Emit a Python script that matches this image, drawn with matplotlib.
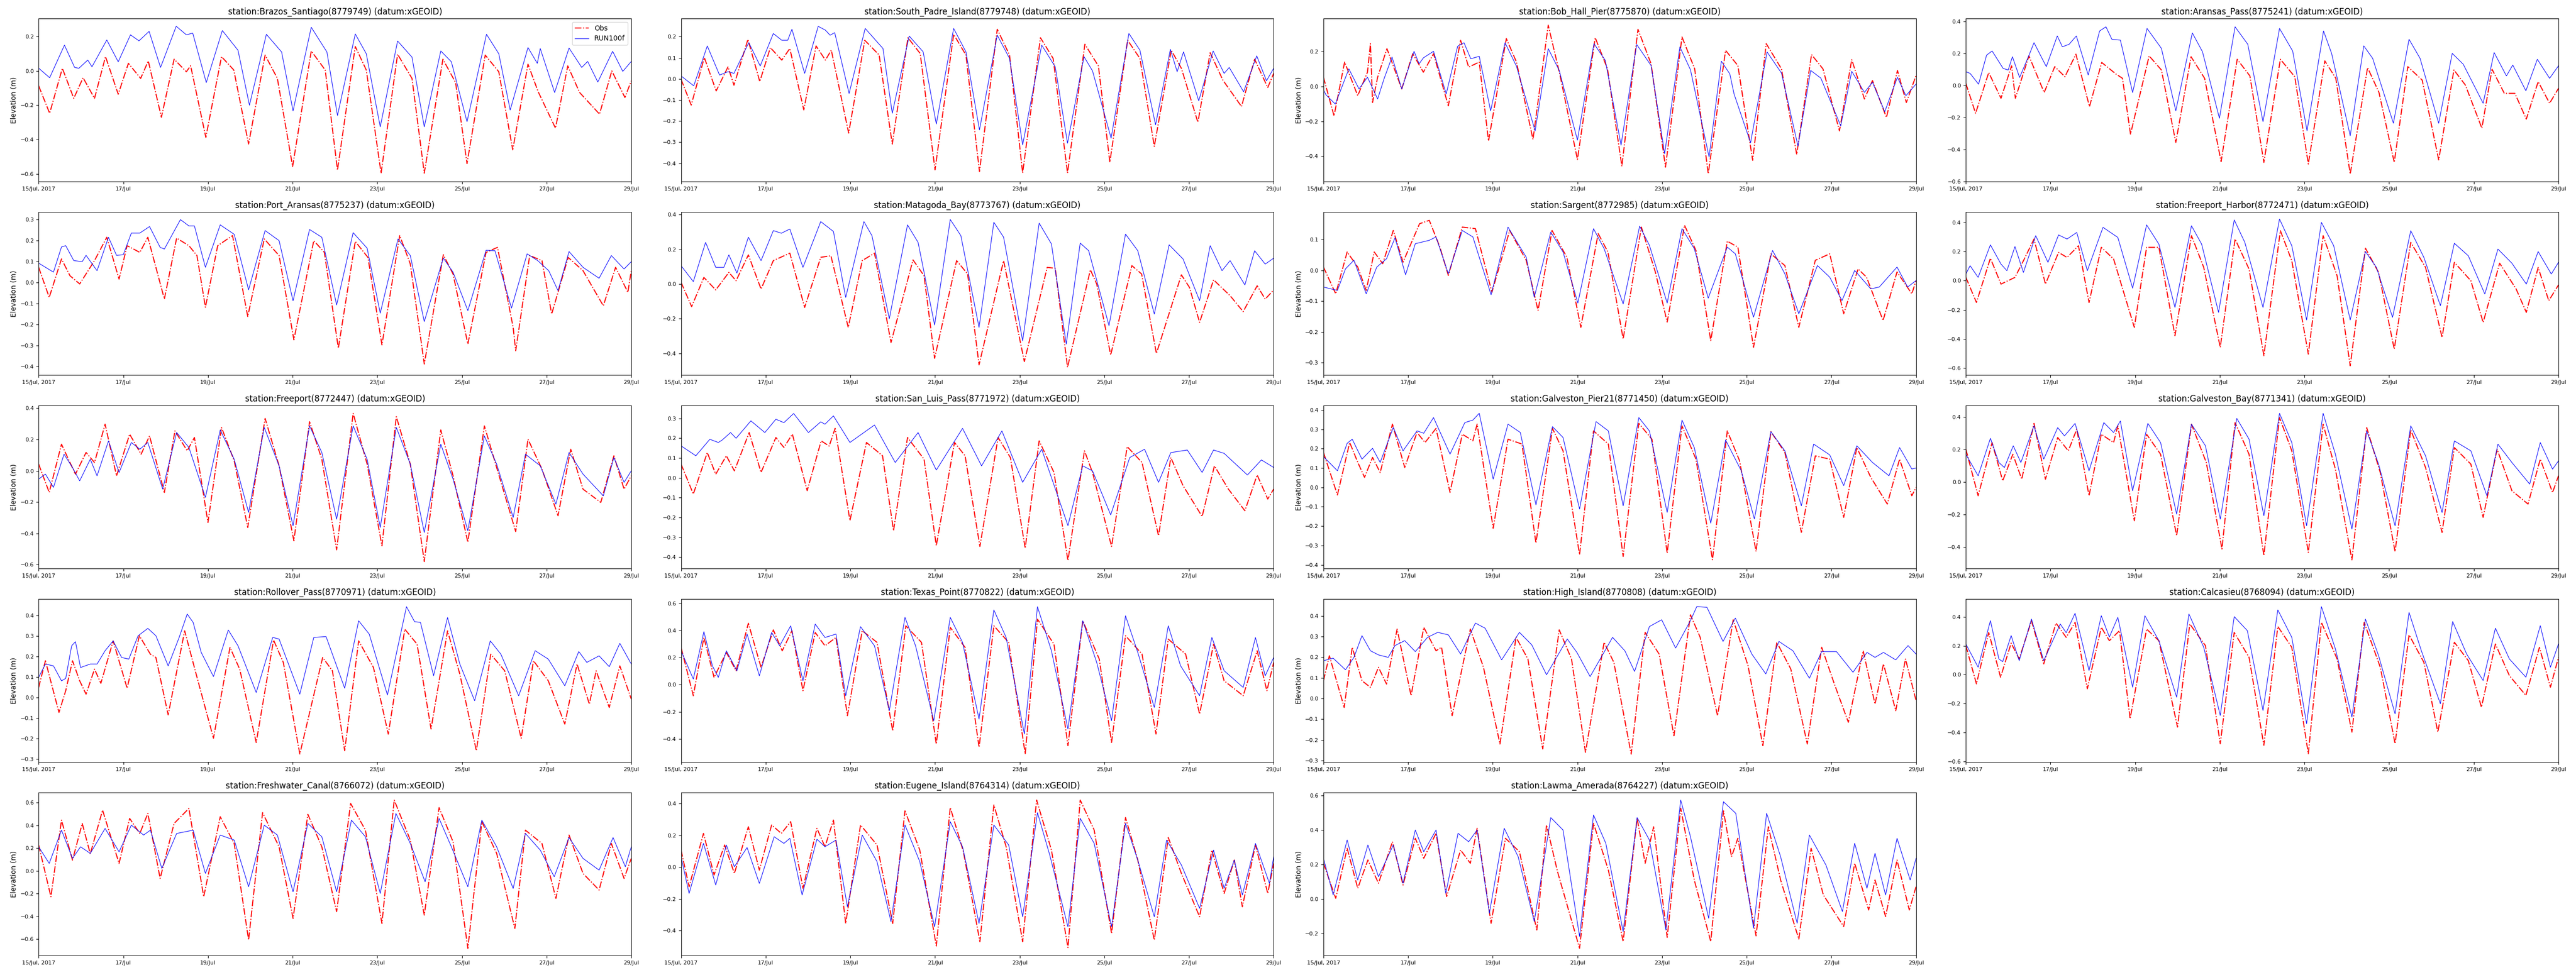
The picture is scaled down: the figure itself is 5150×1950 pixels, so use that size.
import matplotlib

matplotlib.use("Agg")
import matplotlib.pyplot as plt
import numpy as np
import pandas as pd

# Water level at 19 NOAA stations, 15-29 Jul 2017: observed vs RUN100f.
# Each series is a list of (days since 15 Jul 2017 00:00, elevation m),
# read off the tidal highs/lows of the reference figure.
START = pd.Timestamp("2017-07-15")

BRAZOS_MOD = [(0, 0.016), (0.26, -0.04), (0.61, 0.15), (0.85, 0.02), (0.95, 0.015), (1.16, 0.063), (1.26, 0.024), (1.61, 0.18), (1.88, 0.053), (2.17, 0.21), (2.37, 0.175), (2.61, 0.23), (2.88, 0.02), (3.25, 0.26), (3.49, 0.21), (3.64, 0.22), (3.96, -0.068), (4.34, 0.235), (4.71, 0.12), (4.98, -0.2), (5.38, 0.213), (5.74, 0.11), (6.01, -0.233), (6.44, 0.254), (6.81, 0.11), (7.06, -0.26), (7.48, 0.215), (7.74, 0.10), (8.07, -0.326), (8.48, 0.174), (8.82, 0.08), (9.11, -0.326), (9.50, 0.116), (9.75, 0.053), (10.12, -0.296), (10.58, 0.213), (10.87, 0.10), (11.14, -0.228), (11.56, 0.136), (11.78, 0.044), (11.85, 0.13), (12.19, -0.126), (12.53, 0.133), (12.83, 0.02), (12.97, 0.055), (13.21, -0.065), (13.56, 0.114), (13.80, -0.003), (14.0, 0.055)]
BRAZOS_OBS = [(0, -0.087), (0.26, -0.247), (0.56, 0.015), (0.83, -0.16), (1.05, -0.04), (1.32, -0.16), (1.58, 0.083), (1.88, -0.136), (2.12, 0.044), (2.41, -0.044), (2.59, 0.058), (2.90, -0.27), (3.20, 0.068), (3.49, -0.005), (3.59, 0.03), (3.95, -0.387), (4.32, 0.083), (4.61, 0.005), (4.96, -0.426), (5.35, 0.092), (5.64, -0.044), (6.00, -0.557), (6.44, 0.116), (6.77, 0.005), (7.06, -0.578), (7.48, 0.142), (7.74, 0.005), (8.09, -0.596), (8.48, 0.097), (8.82, -0.044), (9.11, -0.596), (9.55, 0.068), (9.85, -0.068), (10.12, -0.54), (10.55, 0.092), (10.87, -0.005), (11.20, -0.46), (11.56, 0.039), (11.80, -0.121), (12.21, -0.334), (12.50, 0.029), (12.78, -0.126), (13.25, -0.252), (13.54, 0.0), (13.85, -0.155), (14.0, -0.058)]

SPADRE_MOD = [(0, 0.014), (0.30, -0.033), (0.62, 0.156), (0.91, 0.018), (1.11, 0.034), (1.25, 0.026), (1.60, 0.172), (1.87, 0.061), (2.18, 0.215), (2.38, 0.183), (2.52, 0.183), (2.62, 0.235), (2.92, 0.026), (3.24, 0.249), (3.41, 0.231), (3.52, 0.207), (3.63, 0.219), (3.97, -0.069), (4.35, 0.239), (4.77, 0.144), (4.99, -0.163), (5.39, 0.203), (5.72, 0.128), (6.03, -0.214), (6.44, 0.239), (6.73, 0.128), (7.05, -0.242), (7.47, 0.207), (7.76, 0.097), (8.07, -0.313), (8.52, 0.16), (8.84, 0.057), (9.13, -0.305), (9.52, 0.105), (9.72, 0.038), (10.16, -0.281), (10.58, 0.215), (10.84, 0.136), (11.21, -0.218), (11.56, 0.14), (11.72, 0.034), (11.87, 0.128), (12.23, -0.104), (12.57, 0.132), (12.83, 0.026), (12.95, 0.054), (13.29, -0.061), (13.60, 0.109), (13.83, -0.009), (14.0, 0.05)]
SPADRE_OBS = [(0, -0.002), (0.24, -0.124), (0.55, 0.101), (0.83, -0.057), (1.11, 0.057), (1.25, -0.03), (1.58, 0.187), (1.86, -0.013), (2.11, 0.148), (2.38, 0.089), (2.57, 0.144), (2.90, -0.147), (3.19, 0.156), (3.41, 0.089), (3.55, 0.136), (3.96, -0.257), (4.34, 0.183), (4.68, 0.113), (4.99, -0.309), (5.36, 0.195), (5.65, 0.12), (6.00, -0.431), (6.44, 0.211), (6.73, 0.113), (7.05, -0.439), (7.47, 0.235), (7.76, 0.113), (8.07, -0.446), (8.49, 0.195), (8.79, 0.097), (9.13, -0.446), (9.54, 0.164), (9.86, 0.061), (10.13, -0.395), (10.55, 0.183), (10.84, 0.097), (11.18, -0.32), (11.58, 0.136), (11.82, 0.05), (12.21, -0.206), (12.50, 0.124), (12.80, -0.006), (13.24, -0.131), (13.55, 0.093), (13.86, -0.041), (14.0, 0.026)]

BOBHALL_MOD = [(0, -0.019), (0.06, -0.048), (0.28, -0.101), (0.60, 0.101), (0.84, -0.014), (1.04, 0.053), (1.28, -0.072), (1.43, 0.043), (1.62, 0.169), (1.85, -0.014), (2.14, 0.202), (2.26, 0.13), (2.36, 0.164), (2.60, 0.202), (2.90, -0.043), (3.17, 0.231), (3.32, 0.251), (3.48, 0.159), (3.68, 0.173), (3.95, -0.14), (4.29, 0.251), (4.56, 0.116), (5.00, -0.255), (5.31, 0.217), (5.57, 0.092), (6.00, -0.308), (6.39, 0.246), (6.66, 0.149), (7.03, -0.337), (7.40, 0.241), (7.74, 0.12), (8.06, -0.386), (8.42, 0.227), (8.67, 0.096), (9.11, -0.405), (9.40, 0.145), (9.60, 0.072), (9.70, -0.043), (10.09, -0.323), (10.48, 0.198), (10.82, 0.077), (11.21, -0.342), (11.51, 0.092), (11.75, 0.048), (12.22, -0.226), (12.48, 0.087), (12.78, -0.034), (12.97, 0.024), (13.26, -0.145), (13.56, 0.053), (13.76, -0.053), (14.0, 0.014)]
BOBHALL_OBS = [(0, 0.053), (0.25, -0.169), (0.50, 0.14), (0.81, -0.053), (1.04, 0.082), (1.11, 0.246), (1.16, -0.092), (1.28, 0.053), (1.50, 0.217), (1.85, -0.014), (2.11, 0.188), (2.36, 0.082), (2.60, 0.188), (2.95, -0.111), (3.24, 0.265), (3.43, 0.111), (3.68, 0.14), (3.90, -0.313), (4.32, 0.275), (4.56, 0.14), (4.95, -0.304), (5.31, 0.352), (5.59, 0.063), (6.00, -0.419), (6.42, 0.28), (6.71, 0.101), (7.05, -0.458), (7.43, 0.328), (7.74, 0.13), (8.08, -0.463), (8.47, 0.284), (8.77, 0.101), (9.09, -0.501), (9.50, 0.207), (9.79, 0.12), (10.14, -0.424), (10.46, 0.246), (10.82, 0.101), (11.18, -0.39), (11.53, 0.183), (11.80, 0.101), (12.19, -0.255), (12.48, 0.154), (12.78, -0.072), (12.97, 0.034), (13.30, -0.178), (13.56, 0.092), (13.77, -0.092), (14.0, 0.063)]

ARANSAS_MOD = [(0, 0.085), (0.10, 0.075), (0.30, 0.007), (0.49, 0.189), (0.62, 0.215), (0.88, 0.106), (1.00, 0.096), (1.10, 0.179), (1.27, 0.049), (1.51, 0.2), (1.61, 0.267), (1.90, 0.117), (2.16, 0.309), (2.28, 0.241), (2.44, 0.257), (2.61, 0.309), (2.89, 0.065), (3.16, 0.34), (3.31, 0.366), (3.45, 0.288), (3.65, 0.283), (3.94, -0.045), (4.28, 0.356), (4.62, 0.231), (4.96, -0.159), (5.35, 0.328), (5.59, 0.21), (5.99, -0.206), (6.36, 0.366), (6.66, 0.257), (7.02, -0.227), (7.41, 0.356), (7.72, 0.215), (8.06, -0.284), (8.45, 0.34), (8.64, 0.2), (9.08, -0.315), (9.40, 0.247), (9.61, 0.169), (10.10, -0.237), (10.47, 0.288), (10.73, 0.169), (11.17, -0.237), (11.49, 0.2), (11.75, 0.132), (12.22, -0.112), (12.48, 0.205), (12.77, 0.059), (12.92, 0.127), (13.23, -0.034), (13.50, 0.163), (13.79, 0.044), (14.0, 0.122)]
ARANSAS_OBS = [(0, 0.012), (0.23, -0.175), (0.54, 0.08), (0.83, -0.081), (1.08, 0.122), (1.17, -0.081), (1.49, 0.184), (1.85, -0.045), (2.10, 0.117), (2.34, 0.054), (2.60, 0.195), (2.92, -0.133), (3.21, 0.143), (3.55, 0.07), (3.70, 0.044), (3.89, -0.305), (4.33, 0.184), (4.62, 0.096), (4.96, -0.357), (5.32, 0.179), (5.64, 0.044), (6.03, -0.477), (6.41, 0.163), (6.71, 0.059), (7.04, -0.482), (7.43, 0.163), (7.77, 0.054), (8.09, -0.492), (8.48, 0.153), (8.74, 0.044), (9.08, -0.555), (9.49, 0.111), (9.76, -0.045), (10.12, -0.482), (10.44, 0.117), (10.78, 0.033), (11.17, -0.466), (11.53, 0.096), (11.80, 0.002), (12.19, -0.268), (12.43, 0.101), (12.72, -0.05), (12.97, -0.05), (13.24, -0.211), (13.52, 0.023), (13.79, -0.112), (14.0, -0.019)]

PORTA_MOD = [(0, 0.093), (0.35, 0.05), (0.54, 0.17), (0.64, 0.176), (0.83, 0.105), (1.03, 0.10), (1.12, 0.13), (1.38, 0.057), (1.65, 0.216), (1.84, 0.13), (2.0, 0.133), (2.19, 0.236), (2.39, 0.236), (2.62, 0.267), (2.87, 0.168), (2.97, 0.16), (3.35, 0.30), (3.55, 0.27), (3.68, 0.27), (3.94, 0.073), (4.29, 0.275), (4.62, 0.23), (4.96, -0.034), (5.35, 0.248), (5.68, 0.20), (6.01, -0.086), (6.40, 0.253), (6.69, 0.216), (7.04, -0.106), (7.43, 0.238), (7.76, 0.164), (8.07, -0.145), (8.49, 0.208), (8.78, 0.129), (9.11, -0.185), (9.56, 0.117), (9.79, 0.05), (10.14, -0.133), (10.57, 0.154), (10.78, 0.152), (11.17, -0.121), (11.54, 0.137), (11.79, 0.105), (12.05, 0.057), (12.27, -0.038), (12.53, 0.148), (12.86, 0.073), (13.24, 0.021), (13.53, 0.129), (13.83, 0.065), (14.0, 0.10)]
PORTA_OBS = [(0, 0.073), (0.25, -0.07), (0.54, 0.113), (0.74, 0.033), (0.97, -0.006), (1.32, 0.105), (1.61, 0.216), (1.90, 0.017), (2.09, 0.176), (2.39, 0.144), (2.58, 0.216), (2.97, -0.078), (3.26, 0.212), (3.55, 0.176), (3.74, 0.129), (3.94, -0.117), (4.23, 0.176), (4.58, 0.224), (4.94, -0.161), (5.33, 0.208), (5.68, 0.129), (6.03, -0.272), (6.50, 0.20), (6.75, 0.144), (7.08, -0.312), (7.48, 0.196), (7.78, 0.12), (8.11, -0.296), (8.53, 0.224), (8.78, 0.089), (9.11, -0.387), (9.56, 0.133), (9.79, 0.041), (10.14, -0.292), (10.57, 0.144), (10.84, 0.168), (11.21, -0.213), (11.27, -0.324), (11.60, 0.129), (11.89, 0.105), (12.12, -0.149), (12.51, 0.12), (12.86, 0.057), (13.34, -0.11), (13.63, 0.073), (13.92, -0.046), (14.0, 0.057)]

MATAGORDA_MOD = [(0, 0.106), (0.29, 0.014), (0.58, 0.24), (0.82, 0.096), (1.01, 0.096), (1.13, 0.168), (1.32, 0.063), (1.59, 0.27), (1.89, 0.135), (2.18, 0.308), (2.37, 0.293), (2.57, 0.317), (2.88, 0.096), (3.30, 0.36), (3.60, 0.303), (3.89, -0.077), (4.32, 0.36), (4.51, 0.279), (4.92, -0.20), (5.35, 0.341), (5.60, 0.24), (5.99, -0.236), (6.36, 0.372), (6.61, 0.279), (7.04, -0.25), (7.39, 0.356), (7.62, 0.27), (8.07, -0.327), (8.46, 0.351), (8.75, 0.231), (9.10, -0.346), (9.43, 0.236), (9.63, 0.192), (10.11, -0.24), (10.50, 0.288), (10.79, 0.192), (11.18, -0.173), (11.53, 0.226), (11.86, 0.144), (12.25, -0.096), (12.50, 0.221), (12.78, 0.077), (12.97, 0.135), (13.32, -0.005), (13.55, 0.192), (13.80, 0.115), (14.0, 0.149)]
MATAGORDA_OBS = [(0, 0.01), (0.25, -0.13), (0.54, 0.038), (0.82, -0.034), (1.13, 0.067), (1.30, 0.019), (1.59, 0.168), (1.89, -0.029), (2.18, 0.135), (2.57, 0.178), (2.92, -0.135), (3.30, 0.154), (3.54, 0.163), (3.95, -0.25), (4.28, 0.135), (4.57, 0.178), (4.96, -0.337), (5.48, 0.139), (5.74, 0.048), (5.99, -0.428), (6.51, 0.135), (6.77, 0.058), (7.04, -0.466), (7.62, 0.135), (8.11, -0.447), (8.65, 0.096), (8.84, 0.091), (9.13, -0.48), (9.67, 0.082), (9.82, 0.0), (10.15, -0.409), (10.65, 0.106), (10.88, 0.058), (11.23, -0.40), (11.82, 0.053), (12.01, -0.019), (12.25, -0.221), (12.58, 0.024), (12.97, -0.067), (13.28, -0.159), (13.61, -0.01), (13.80, -0.087), (14.0, -0.034)]

SARGENT_MOD = [(0, -0.054), (0.33, -0.065), (0.52, 0.005), (0.72, 0.033), (1.01, -0.076), (1.26, 0.011), (1.49, 0.038), (1.69, 0.106), (1.94, -0.014), (2.17, 0.087), (2.50, 0.098), (2.66, 0.109), (2.95, -0.011), (3.28, 0.13), (3.53, 0.109), (3.96, -0.079), (4.36, 0.141), (4.79, 0.043), (4.98, -0.087), (5.37, 0.125), (5.66, 0.06), (6.01, -0.106), (6.38, 0.136), (6.63, 0.071), (7.08, -0.109), (7.47, 0.144), (7.70, 0.082), (8.12, -0.106), (8.47, 0.136), (8.76, 0.071), (9.09, -0.09), (9.54, 0.076), (9.73, 0.054), (10.16, -0.152), (10.61, 0.065), (10.90, -0.011), (11.23, -0.141), (11.67, 0.016), (11.96, -0.022), (12.25, -0.098), (12.55, 0.0), (12.93, -0.06), (13.13, -0.054), (13.55, 0.011), (13.80, -0.054), (14.0, -0.033)]
SARGENT_OBS = [(0, 0.011), (0.29, -0.076), (0.56, 0.06), (0.81, 0.011), (1.01, -0.065), (1.20, 0.06), (1.40, 0.022), (1.65, 0.13), (1.88, 0.027), (2.27, 0.152), (2.50, 0.163), (2.75, 0.076), (2.95, -0.016), (3.28, 0.141), (3.59, 0.136), (3.98, -0.071), (4.40, 0.13), (4.79, 0.033), (5.07, -0.13), (5.40, 0.13), (5.75, 0.043), (6.08, -0.185), (6.49, 0.12), (6.72, 0.06), (7.08, -0.223), (7.51, 0.141), (7.84, -0.005), (8.12, -0.168), (8.53, 0.147), (8.80, 0.065), (9.15, -0.228), (9.54, 0.095), (9.79, 0.076), (10.16, -0.25), (10.57, 0.054), (10.90, 0.016), (11.23, -0.185), (11.62, 0.033), (11.96, 0.054), (12.29, -0.141), (12.63, 0.005), (12.83, -0.022), (13.22, -0.163), (13.55, -0.005), (13.90, -0.076), (14.0, -0.033)]

FHARBOR_MOD = [(0, 0.046), (0.10, 0.103), (0.29, 0.023), (0.58, 0.246), (0.83, 0.114), (0.97, 0.069), (1.16, 0.234), (1.36, 0.057), (1.65, 0.309), (1.94, 0.126), (2.19, 0.314), (2.39, 0.286), (2.62, 0.331), (2.87, 0.069), (3.24, 0.366), (3.59, 0.297), (3.94, -0.051), (4.27, 0.383), (4.56, 0.251), (4.94, -0.183), (5.33, 0.377), (5.57, 0.251), (5.97, -0.217), (6.34, 0.417), (6.59, 0.263), (7.02, -0.183), (7.41, 0.423), (7.70, 0.24), (8.05, -0.269), (8.40, 0.40), (8.69, 0.24), (9.08, -0.269), (9.44, 0.20), (9.70, 0.091), (10.08, -0.251), (10.51, 0.343), (10.82, 0.16), (11.21, -0.171), (11.54, 0.257), (11.87, 0.171), (12.26, -0.091), (12.57, 0.217), (12.90, 0.12), (13.24, -0.023), (13.52, 0.20), (13.83, 0.046), (14.0, 0.126)]
FHARBOR_OBS = [(0, 0.023), (0.25, -0.149), (0.58, 0.154), (0.83, -0.023), (1.16, 0.023), (1.36, 0.137), (1.61, 0.286), (1.88, -0.023), (2.19, 0.194), (2.39, 0.16), (2.66, 0.24), (2.91, -0.149), (3.20, 0.229), (3.49, 0.149), (3.98, -0.32), (4.27, 0.229), (4.56, 0.229), (4.94, -0.377), (5.33, 0.309), (5.62, 0.091), (6.01, -0.457), (6.36, 0.286), (6.69, 0.08), (7.04, -0.514), (7.43, 0.343), (7.70, 0.137), (8.09, -0.503), (8.44, 0.309), (8.77, 0.034), (9.08, -0.583), (9.44, 0.223), (9.75, 0.057), (10.12, -0.469), (10.51, 0.263), (10.86, 0.091), (11.25, -0.389), (11.54, 0.126), (11.93, 0.0), (12.22, -0.286), (12.61, 0.12), (13.00, -0.057), (13.24, -0.217), (13.52, 0.091), (13.77, -0.137), (14.0, -0.029)]

FREEPORT_MOD = [(0, -0.053), (0.16, -0.021), (0.35, -0.106), (0.60, 0.106), (0.80, 0.021), (0.97, -0.064), (1.22, 0.074), (1.38, -0.032), (1.65, 0.191), (1.90, -0.011), (2.19, 0.181), (2.39, 0.138), (2.58, 0.181), (2.93, -0.117), (3.26, 0.245), (3.55, 0.149), (3.94, -0.17), (4.29, 0.261), (4.62, 0.074), (4.96, -0.266), (5.33, 0.277), (5.68, 0.032), (6.01, -0.351), (6.40, 0.287), (6.69, 0.117), (7.04, -0.309), (7.43, 0.287), (7.76, 0.074), (8.07, -0.362), (8.45, 0.277), (8.78, 0.043), (9.11, -0.394), (9.50, 0.17), (9.79, -0.053), (10.14, -0.383), (10.53, 0.223), (10.82, 0.043), (11.21, -0.298), (11.50, 0.106), (11.85, 0.032), (12.22, -0.213), (12.53, 0.117), (12.86, -0.021), (13.34, -0.16), (13.59, 0.085), (13.83, -0.074), (14.0, 0.0)]
FREEPORT_OBS = [(0, 0.043), (0.25, -0.138), (0.54, 0.17), (0.74, 0.053), (0.87, -0.021), (1.12, 0.117), (1.32, 0.053), (1.57, 0.298), (1.84, -0.032), (2.15, 0.234), (2.42, 0.106), (2.62, 0.223), (2.97, -0.138), (3.22, 0.255), (3.51, 0.128), (3.68, 0.213), (4.00, -0.33), (4.32, 0.277), (4.62, 0.064), (4.94, -0.362), (5.35, 0.335), (5.68, 0.032), (6.03, -0.447), (6.40, 0.314), (6.69, 0.074), (7.04, -0.505), (7.43, 0.367), (7.76, 0.043), (8.11, -0.479), (8.45, 0.346), (8.78, 0.043), (9.11, -0.58), (9.50, 0.261), (9.79, -0.032), (10.14, -0.457), (10.53, 0.287), (10.82, 0.021), (11.27, -0.388), (11.56, 0.202), (11.89, 0.011), (12.27, -0.287), (12.57, 0.138), (12.86, -0.117), (13.28, -0.202), (13.59, 0.096), (13.83, -0.117), (14.0, -0.032)]

SANLUIS_MOD = [(0, 0.161), (0.35, 0.111), (0.68, 0.194), (0.88, 0.178), (0.97, 0.19), (1.17, 0.228), (1.30, 0.199), (1.65, 0.287), (1.98, 0.228), (2.24, 0.295), (2.43, 0.278), (2.66, 0.324), (3.01, 0.228), (3.30, 0.282), (3.40, 0.27), (3.60, 0.312), (3.99, 0.178), (4.57, 0.266), (5.06, 0.077), (5.60, 0.228), (6.03, 0.039), (6.65, 0.249), (7.10, 0.06), (7.58, 0.236), (8.07, -0.023), (8.52, 0.144), (9.14, -0.241), (9.49, 0.06), (9.72, 0.035), (10.15, -0.187), (10.60, 0.102), (10.95, 0.144), (11.28, -0.023), (11.57, 0.127), (11.96, 0.14), (12.31, 0.027), (12.58, 0.14), (12.83, 0.123), (13.38, 0.014), (13.71, 0.09), (14.0, 0.052)]
SANLUIS_OBS = [(0, 0.069), (0.29, -0.082), (0.62, 0.127), (0.82, 0.018), (1.07, 0.111), (1.26, 0.035), (1.61, 0.228), (1.89, 0.027), (2.24, 0.203), (2.43, 0.153), (2.63, 0.22), (2.98, -0.065), (3.31, 0.186), (3.50, 0.16), (3.64, 0.249), (3.99, -0.216), (4.38, 0.178), (4.76, 0.111), (5.02, -0.267), (5.35, 0.203), (5.74, 0.094), (6.03, -0.342), (6.46, 0.178), (6.71, 0.111), (7.06, -0.346), (7.49, 0.203), (7.78, 0.102), (8.13, -0.355), (8.46, 0.186), (8.81, 0.027), (9.14, -0.417), (9.53, 0.136), (9.72, 0.027), (10.17, -0.346), (10.54, 0.157), (10.89, 0.077), (11.28, -0.292), (11.57, 0.102), (11.86, -0.04), (12.31, -0.195), (12.60, 0.06), (12.93, -0.057), (13.32, -0.166), (13.61, 0.014), (13.86, -0.107), (14.0, -0.057)]

PIER21_MOD = [(0, 0.159), (0.33, 0.086), (0.56, 0.228), (0.68, 0.249), (0.91, 0.146), (1.16, 0.202), (1.34, 0.129), (1.65, 0.31), (1.88, 0.189), (2.21, 0.292), (2.37, 0.28), (2.60, 0.361), (2.99, 0.172), (3.34, 0.335), (3.53, 0.348), (3.68, 0.383), (4.01, 0.043), (4.36, 0.327), (4.65, 0.284), (5.02, -0.09), (5.41, 0.314), (5.66, 0.258), (6.05, -0.112), (6.44, 0.34), (6.73, 0.292), (7.08, -0.095), (7.45, 0.361), (7.70, 0.292), (8.12, -0.129), (8.47, 0.348), (8.76, 0.206), (9.15, -0.185), (9.50, 0.245), (9.87, 0.086), (10.18, -0.163), (10.57, 0.288), (10.90, 0.189), (11.29, -0.095), (11.58, 0.224), (11.96, 0.168), (12.29, 0.009), (12.60, 0.215), (12.97, 0.129), (13.36, 0.06), (13.61, 0.206), (13.90, 0.095), (14.0, 0.1)]
PIER21_OBS = [(0, 0.181), (0.33, -0.039), (0.62, 0.232), (0.81, 0.13), (0.97, 0.052), (1.16, 0.155), (1.34, 0.077), (1.63, 0.327), (1.92, 0.103), (2.21, 0.284), (2.40, 0.232), (2.66, 0.305), (2.99, -0.026), (3.28, 0.275), (3.53, 0.241), (3.63, 0.327), (4.01, -0.211), (4.36, 0.249), (4.69, 0.224), (5.02, -0.288), (5.41, 0.305), (5.66, 0.189), (6.05, -0.348), (6.38, 0.292), (6.73, 0.224), (7.08, -0.357), (7.45, 0.331), (7.76, 0.249), (8.12, -0.34), (8.47, 0.318), (8.80, 0.146), (9.19, -0.374), (9.54, 0.292), (9.83, 0.138), (10.22, -0.331), (10.57, 0.288), (10.90, 0.181), (11.29, -0.232), (11.62, 0.163), (11.96, 0.146), (12.29, -0.155), (12.60, 0.206), (12.93, 0.052), (13.32, -0.086), (13.61, 0.146), (13.90, -0.043), (14.0, 0.0)]

GBAY_MOD = [(0, 0.172), (0.29, 0.039), (0.58, 0.27), (0.78, 0.121), (0.91, 0.09), (1.12, 0.224), (1.30, 0.121), (1.61, 0.347), (1.84, 0.142), (2.17, 0.336), (2.33, 0.285), (2.58, 0.362), (2.91, 0.07), (3.26, 0.367), (3.49, 0.306), (3.65, 0.377), (3.94, -0.053), (4.30, 0.362), (4.60, 0.244), (4.98, -0.197), (5.33, 0.357), (5.66, 0.224), (6.01, -0.228), (6.40, 0.393), (6.69, 0.265), (7.04, -0.207), (7.41, 0.424), (7.70, 0.244), (8.05, -0.269), (8.44, 0.424), (8.73, 0.172), (9.12, -0.289), (9.47, 0.316), (9.75, 0.111), (10.14, -0.269), (10.51, 0.347), (10.86, 0.162), (11.25, -0.187), (11.54, 0.254), (11.93, 0.193), (12.31, -0.084), (12.57, 0.234), (12.90, 0.121), (13.32, -0.012), (13.57, 0.244), (13.86, 0.08), (14.0, 0.131)]
GBAY_OBS = [(0, 0.203), (0.29, -0.084), (0.62, 0.244), (0.87, 0.008), (1.11, 0.172), (1.32, 0.018), (1.61, 0.362), (1.88, 0.018), (2.17, 0.275), (2.42, 0.193), (2.62, 0.326), (2.91, -0.084), (3.20, 0.295), (3.49, 0.244), (3.59, 0.347), (3.98, -0.238), (4.27, 0.295), (4.60, 0.172), (4.98, -0.33), (5.33, 0.357), (5.68, 0.121), (6.05, -0.412), (6.36, 0.367), (6.69, 0.172), (7.04, -0.453), (7.41, 0.398), (7.70, 0.193), (8.09, -0.433), (8.44, 0.357), (8.73, 0.08), (9.12, -0.479), (9.47, 0.336), (9.79, 0.059), (10.14, -0.428), (10.51, 0.321), (10.86, 0.09), (11.25, -0.31), (11.54, 0.213), (11.93, 0.111), (12.22, -0.217), (12.55, 0.203), (12.90, -0.053), (13.28, -0.135), (13.57, 0.142), (13.86, -0.064), (14.0, 0.039)]

ROLLOVER_MOD = [(0, 0.098), (0.16, 0.163), (0.35, 0.154), (0.54, 0.081), (0.64, 0.093), (0.78, 0.252), (0.87, 0.272), (0.99, 0.146), (1.22, 0.163), (1.38, 0.163), (1.57, 0.228), (1.76, 0.276), (1.96, 0.195), (2.13, 0.187), (2.35, 0.301), (2.58, 0.337), (2.77, 0.301), (3.06, 0.154), (3.32, 0.293), (3.51, 0.407), (3.65, 0.366), (3.84, 0.22), (4.13, 0.102), (4.48, 0.329), (4.71, 0.252), (5.14, 0.024), (5.53, 0.293), (5.68, 0.285), (6.17, 0.016), (6.50, 0.293), (6.79, 0.297), (7.23, 0.045), (7.56, 0.374), (7.81, 0.309), (8.24, 0.012), (8.69, 0.443), (8.88, 0.37), (9.02, 0.366), (9.33, 0.106), (9.66, 0.39), (9.95, 0.163), (10.30, -0.016), (10.67, 0.276), (10.92, 0.211), (11.34, 0.008), (11.73, 0.228), (12.04, 0.187), (12.43, 0.057), (12.76, 0.224), (12.95, 0.171), (13.24, 0.203), (13.48, 0.15), (13.73, 0.264), (14.0, 0.163)]
ROLLOVER_OBS = [(0, 0.049), (0.16, 0.179), (0.48, -0.073), (0.64, 0.033), (0.80, 0.179), (0.97, 0.081), (1.12, 0.016), (1.32, 0.138), (1.47, 0.069), (1.76, 0.276), (2.09, 0.045), (2.38, 0.301), (2.64, 0.211), (2.77, 0.195), (3.06, -0.085), (3.45, 0.325), (3.70, 0.13), (4.13, -0.199), (4.52, 0.244), (4.75, 0.138), (5.14, -0.22), (5.55, 0.28), (5.78, 0.171), (6.17, -0.276), (6.71, 0.195), (6.94, 0.13), (7.23, -0.26), (7.56, 0.276), (7.91, 0.146), (8.26, -0.179), (8.65, 0.333), (8.94, 0.26), (9.27, -0.154), (9.66, 0.325), (9.95, 0.114), (10.34, -0.26), (10.68, 0.211), (11.01, 0.13), (11.40, -0.199), (11.69, 0.179), (12.04, 0.081), (12.43, -0.13), (12.72, 0.163), (13.01, -0.033), (13.17, 0.13), (13.48, -0.049), (13.73, 0.154), (14.0, -0.008)]

TEXASPT_MOD = [(0, 0.25), (0.29, 0.042), (0.54, 0.391), (0.74, 0.14), (0.88, 0.054), (1.07, 0.25), (1.32, 0.103), (1.56, 0.373), (1.85, 0.066), (2.14, 0.385), (2.33, 0.287), (2.59, 0.434), (2.88, 0.029), (3.17, 0.447), (3.40, 0.348), (3.66, 0.373), (3.89, -0.081), (4.24, 0.428), (4.57, 0.287), (4.92, -0.191), (5.29, 0.496), (5.54, 0.287), (5.97, -0.265), (6.36, 0.496), (6.65, 0.312), (7.04, -0.253), (7.39, 0.551), (7.68, 0.348), (8.11, -0.363), (8.42, 0.575), (8.75, 0.25), (9.14, -0.326), (9.49, 0.471), (9.82, 0.164), (10.17, -0.265), (10.50, 0.508), (10.79, 0.238), (11.18, -0.167), (11.51, 0.434), (11.80, 0.14), (12.25, -0.081), (12.54, 0.348), (12.83, 0.103), (13.28, -0.02), (13.57, 0.348), (13.80, 0.066), (14.0, 0.201)]
TEXASPT_OBS = [(0, 0.275), (0.29, -0.081), (0.54, 0.348), (0.78, 0.054), (1.07, 0.238), (1.30, 0.103), (1.59, 0.453), (1.89, 0.128), (2.18, 0.404), (2.39, 0.25), (2.62, 0.398), (2.88, -0.044), (3.17, 0.385), (3.40, 0.287), (3.66, 0.348), (3.93, -0.228), (4.28, 0.398), (4.63, 0.312), (5.00, -0.339), (5.31, 0.434), (5.68, 0.312), (6.03, -0.437), (6.36, 0.422), (6.71, 0.275), (7.04, -0.461), (7.39, 0.434), (7.74, 0.312), (8.13, -0.51), (8.42, 0.483), (8.81, 0.299), (9.14, -0.449), (9.49, 0.471), (9.88, 0.189), (10.17, -0.425), (10.50, 0.361), (10.89, 0.226), (11.22, -0.363), (11.51, 0.336), (11.92, 0.226), (12.25, -0.216), (12.58, 0.299), (12.83, 0.029), (13.28, -0.081), (13.61, 0.25), (13.84, -0.044), (14.0, 0.164)]

HIGHISL_MOD = [(0, 0.183), (0.23, 0.195), (0.52, 0.139), (0.72, 0.199), (0.91, 0.304), (1.11, 0.231), (1.30, 0.211), (1.53, 0.199), (1.69, 0.256), (1.92, 0.28), (2.17, 0.227), (2.46, 0.296), (2.70, 0.32), (2.95, 0.308), (3.24, 0.215), (3.59, 0.365), (3.82, 0.34), (4.21, 0.187), (4.63, 0.32), (4.92, 0.26), (5.27, 0.115), (5.76, 0.288), (5.99, 0.222), (6.30, 0.106), (6.83, 0.296), (7.12, 0.231), (7.35, 0.131), (7.70, 0.348), (7.99, 0.381), (8.32, 0.244), (8.67, 0.377), (8.82, 0.445), (9.06, 0.441), (9.44, 0.276), (9.73, 0.389), (10.12, 0.215), (10.45, 0.119), (10.76, 0.276), (11.09, 0.231), (11.48, 0.098), (11.77, 0.227), (12.12, 0.227), (12.51, 0.127), (12.84, 0.223), (13.03, 0.199), (13.23, 0.223), (13.52, 0.187), (13.81, 0.256), (14.0, 0.215)]
HIGHISL_OBS = [(0, 0.086), (0.14, 0.207), (0.49, -0.043), (0.68, 0.248), (0.91, 0.086), (1.11, 0.054), (1.30, 0.151), (1.49, 0.07), (1.74, 0.336), (2.07, 0.014), (2.37, 0.344), (2.66, 0.231), (2.79, 0.248), (3.04, -0.083), (3.47, 0.336), (3.78, 0.151), (4.17, -0.22), (4.55, 0.296), (4.83, 0.191), (5.18, -0.244), (5.57, 0.332), (5.86, 0.191), (6.19, -0.26), (6.63, 0.272), (6.86, 0.175), (7.27, -0.269), (7.60, 0.32), (7.93, 0.215), (8.28, -0.18), (8.67, 0.405), (8.90, 0.296), (9.31, -0.083), (9.68, 0.381), (10.03, 0.159), (10.38, -0.228), (10.71, 0.272), (11.04, 0.143), (11.43, -0.22), (11.77, 0.248), (12.07, 0.07), (12.40, -0.115), (12.75, 0.231), (13.03, -0.027), (13.23, 0.167), (13.52, -0.059), (13.75, 0.191), (14.0, -0.01)]

CALCASIEU_MOD = [(0, 0.212), (0.29, 0.052), (0.58, 0.373), (0.78, 0.109), (0.87, 0.09), (1.07, 0.27), (1.26, 0.097), (1.55, 0.384), (1.84, 0.097), (2.23, 0.35), (2.37, 0.29), (2.58, 0.424), (2.91, 0.029), (3.20, 0.407), (3.39, 0.26), (3.59, 0.396), (3.94, -0.086), (4.23, 0.407), (4.56, 0.235), (4.98, -0.155), (5.27, 0.419), (5.62, 0.189), (6.01, -0.281), (6.34, 0.401), (6.65, 0.304), (7.02, -0.247), (7.37, 0.447), (7.70, 0.258), (8.05, -0.338), (8.40, 0.47), (8.73, 0.178), (9.12, -0.292), (9.44, 0.384), (9.75, 0.132), (10.14, -0.27), (10.47, 0.43), (10.76, 0.166), (11.21, -0.2), (11.50, 0.367), (11.83, 0.143), (12.22, -0.04), (12.51, 0.321), (12.84, 0.109), (13.23, -0.017), (13.57, 0.338), (13.81, 0.052), (14.0, 0.212)]
CALCASIEU_OBS = [(0, 0.201), (0.25, -0.063), (0.54, 0.292), (0.82, -0.017), (1.07, 0.218), (1.26, 0.109), (1.55, 0.373), (1.84, 0.075), (2.13, 0.356), (2.37, 0.258), (2.58, 0.361), (2.87, -0.097), (3.20, 0.327), (3.39, 0.235), (3.63, 0.304), (3.88, -0.304), (4.27, 0.315), (4.56, 0.235), (5.00, -0.361), (5.29, 0.35), (5.66, 0.201), (6.01, -0.476), (6.34, 0.292), (6.69, 0.12), (7.04, -0.487), (7.37, 0.333), (7.70, 0.189), (8.09, -0.545), (8.40, 0.361), (8.77, 0.109), (9.12, -0.396), (9.41, 0.361), (9.79, 0.052), (10.14, -0.476), (10.47, 0.275), (10.82, 0.086), (11.15, -0.396), (11.54, 0.224), (11.87, 0.097), (12.18, -0.224), (12.51, 0.212), (12.84, -0.006), (13.23, -0.143), (13.55, 0.189), (13.81, -0.086), (14.0, 0.12)]

FRESHWATER_MOD = [(0, 0.212), (0.25, 0.066), (0.54, 0.358), (0.80, 0.11), (0.99, 0.212), (1.22, 0.154), (1.57, 0.373), (1.90, 0.168), (2.19, 0.402), (2.48, 0.315), (2.64, 0.358), (2.91, 0.022), (3.26, 0.329), (3.65, 0.358), (3.94, -0.022), (4.29, 0.315), (4.62, 0.271), (4.96, -0.139), (5.33, 0.402), (5.64, 0.315), (6.01, -0.183), (6.36, 0.417), (6.69, 0.30), (7.04, -0.183), (7.39, 0.446), (7.72, 0.30), (8.07, -0.198), (8.44, 0.505), (8.78, 0.241), (9.13, -0.095), (9.46, 0.461), (9.75, 0.212), (10.14, -0.139), (10.47, 0.446), (10.82, 0.212), (11.21, -0.154), (11.50, 0.329), (11.85, 0.183), (12.18, -0.051), (12.53, 0.293), (12.86, 0.11), (13.24, 0.007), (13.57, 0.293), (13.86, 0.037), (14.0, 0.212)]
FRESHWATER_OBS = [(0, 0.227), (0.29, -0.227), (0.54, 0.446), (0.80, 0.095), (1.03, 0.417), (1.22, 0.15), (1.51, 0.534), (1.90, 0.066), (2.15, 0.461), (2.39, 0.329), (2.58, 0.505), (2.87, -0.066), (3.20, 0.417), (3.55, 0.549), (3.90, -0.227), (4.29, 0.476), (4.62, 0.241), (4.96, -0.607), (5.29, 0.512), (5.68, 0.212), (6.01, -0.417), (6.36, 0.497), (6.69, 0.212), (7.04, -0.358), (7.37, 0.593), (7.72, 0.358), (8.11, -0.461), (8.40, 0.622), (8.78, 0.271), (9.11, -0.388), (9.46, 0.556), (9.79, 0.256), (10.14, -0.68), (10.47, 0.432), (10.82, 0.154), (11.25, -0.505), (11.50, 0.358), (11.89, 0.241), (12.22, -0.241), (12.53, 0.315), (12.86, -0.022), (13.24, -0.168), (13.53, 0.241), (13.83, -0.066), (14.0, 0.11)]

EUGENE_MOD = [(0, 0.066), (0.19, -0.165), (0.53, 0.15), (0.82, -0.112), (1.07, 0.14), (1.26, 0.003), (1.56, 0.124), (1.85, -0.102), (2.20, 0.192), (2.43, 0.15), (2.57, 0.182), (2.86, -0.175), (3.21, 0.176), (3.40, 0.129), (3.66, 0.171), (3.93, -0.249), (4.28, 0.203), (4.63, 0.035), (4.96, -0.343), (5.29, 0.266), (5.64, 0.035), (5.99, -0.375), (6.36, 0.287), (6.65, 0.129), (7.04, -0.354), (7.39, 0.266), (7.74, 0.14), (8.07, -0.312), (8.42, 0.344), (8.71, 0.077), (9.14, -0.375), (9.43, 0.308), (9.76, 0.15), (10.17, -0.375), (10.50, 0.276), (10.79, 0.045), (11.18, -0.312), (11.47, 0.171), (11.82, 0.014), (12.25, -0.259), (12.58, 0.108), (12.83, -0.133), (13.07, 0.045), (13.26, -0.175), (13.57, 0.15), (13.90, -0.102), (14.0, 0.066)]
EUGENE_OBS = [(0, 0.108), (0.19, -0.123), (0.53, 0.213), (0.78, -0.049), (1.03, 0.14), (1.26, -0.039), (1.59, 0.255), (1.85, -0.018), (2.14, 0.266), (2.37, 0.213), (2.59, 0.287), (2.88, -0.133), (3.21, 0.245), (3.40, 0.129), (3.60, 0.297), (3.89, -0.354), (4.24, 0.266), (4.63, 0.14), (5.00, -0.354), (5.29, 0.355), (5.64, 0.108), (6.03, -0.496), (6.36, 0.376), (6.67, 0.098), (7.06, -0.469), (7.39, 0.392), (7.68, 0.129), (8.07, -0.469), (8.40, 0.423), (8.75, 0.108), (9.14, -0.506), (9.43, 0.423), (9.76, 0.234), (10.17, -0.417), (10.50, 0.313), (10.79, 0.045), (11.18, -0.459), (11.51, 0.187), (11.82, -0.039), (12.25, -0.312), (12.54, 0.108), (12.83, -0.165), (13.07, 0.045), (13.26, -0.249), (13.57, 0.14), (13.86, -0.165), (14.0, 0.024)]

LAWMA_MOD = [(0, 0.236), (0.23, 0.023), (0.56, 0.342), (0.81, 0.11), (1.05, 0.313), (1.30, 0.129), (1.65, 0.313), (1.88, 0.091), (2.17, 0.40), (2.37, 0.274), (2.66, 0.40), (2.89, 0.033), (3.18, 0.381), (3.43, 0.332), (3.63, 0.40), (3.92, -0.083), (4.27, 0.41), (4.60, 0.245), (4.98, -0.131), (5.37, 0.472), (5.66, 0.40), (6.05, -0.218), (6.38, 0.487), (6.67, 0.323), (7.08, -0.189), (7.41, 0.472), (7.70, 0.342), (8.09, -0.18), (8.44, 0.574), (8.67, 0.361), (9.10, -0.112), (9.45, 0.564), (9.74, 0.497), (10.16, -0.17), (10.47, 0.497), (10.80, 0.245), (11.19, -0.141), (11.48, 0.371), (11.87, 0.197), (12.26, -0.073), (12.55, 0.323), (12.84, 0.062), (13.03, 0.265), (13.28, 0.023), (13.55, 0.352), (13.86, 0.11), (14.0, 0.236)]
LAWMA_OBS = [(0, 0.207), (0.29, 0.004), (0.56, 0.294), (0.81, 0.062), (1.05, 0.226), (1.30, 0.091), (1.63, 0.332), (1.88, 0.081), (2.17, 0.352), (2.37, 0.236), (2.66, 0.381), (2.91, 0.014), (3.24, 0.284), (3.47, 0.207), (3.63, 0.41), (3.96, -0.141), (4.30, 0.352), (4.63, 0.274), (5.04, -0.18), (5.27, 0.429), (5.53, 0.158), (6.05, -0.286), (6.38, 0.439), (6.73, 0.168), (7.08, -0.247), (7.41, 0.468), (7.60, 0.207), (7.80, 0.419), (8.12, -0.223), (8.44, 0.526), (8.76, 0.11), (9.15, -0.247), (9.45, 0.511), (9.64, 0.245), (9.79, 0.352), (10.22, -0.214), (10.51, 0.419), (10.80, 0.11), (11.23, -0.233), (11.52, 0.294), (11.81, 0.023), (12.29, -0.16), (12.55, 0.207), (12.88, -0.064), (13.03, 0.11), (13.28, -0.102), (13.55, 0.226), (13.84, -0.064), (14.0, 0.072)]

STATION_NAMES = [
    "Brazos_Santiago(8779749)", "South_Padre_Island(8779748)", "Bob_Hall_Pier(8775870)", "Aransas_Pass(8775241)",
    "Port_Aransas(8775237)", "Matagoda_Bay(8773767)", "Sargent(8772985)", "Freeport_Harbor(8772471)",
    "Freeport(8772447)", "San_Luis_Pass(8771972)", "Galveston_Pier21(8771450)", "Galveston_Bay(8771341)",
    "Rollover_Pass(8770971)", "Texas_Point(8770822)", "High_Island(8770808)", "Calcasieu(8768094)",
    "Freshwater_Canal(8766072)", "Eugene_Island(8764314)", "Lawma_Amerada(8764227)",
]
OBS_SERIES = [BRAZOS_OBS, SPADRE_OBS, BOBHALL_OBS, ARANSAS_OBS, PORTA_OBS, MATAGORDA_OBS, SARGENT_OBS,
              FHARBOR_OBS, FREEPORT_OBS, SANLUIS_OBS, PIER21_OBS, GBAY_OBS, ROLLOVER_OBS, TEXASPT_OBS,
              HIGHISL_OBS, CALCASIEU_OBS, FRESHWATER_OBS, EUGENE_OBS, LAWMA_OBS]
MOD_SERIES = [BRAZOS_MOD, SPADRE_MOD, BOBHALL_MOD, ARANSAS_MOD, PORTA_MOD, MATAGORDA_MOD, SARGENT_MOD,
              FHARBOR_MOD, FREEPORT_MOD, SANLUIS_MOD, PIER21_MOD, GBAY_MOD, ROLLOVER_MOD, TEXASPT_MOD,
              HIGHISL_MOD, CALCASIEU_MOD, FRESHWATER_MOD, EUGENE_MOD, LAWMA_MOD]
# y-range shown on each panel (m)
Y_RANGES = [(-0.644, 0.305), (-0.486, 0.286), (-0.545, 0.39), (-0.601, 0.418),
            (-0.439, 0.336), (-0.524, 0.415), (-0.34, 0.19), (-0.646, 0.471),
            (-0.624, 0.417), (-0.457, 0.364), (-0.419, 0.423), (-0.532, 0.472),
            (-0.315, 0.48), (-0.569, 0.631), (-0.307, 0.481), (-0.602, 0.522),
            (-0.743, 0.688), (-0.556, 0.47), (-0.328, 0.617)]
TICK_DAYS = [0, 2, 4, 6, 8, 10, 12, 14]


def to_series(pairs):
    arr = np.asarray(pairs, dtype=float)
    return START + pd.to_timedelta(arr[:, 0], unit="D"), arr[:, 1]


def tick_label(d):
    return d.strftime("%d/%b, %Y") if d == START else d.strftime("%d/%b")


fig, axes = plt.subplots(5, 4, figsize=(51.5, 19.5), dpi=100)
fig.subplots_adjust(left=0.015, right=0.9932, top=0.981, bottom=0.020, wspace=0.084, hspace=0.188)

tick_dates = [START + pd.Timedelta(days=d) for d in TICK_DAYS]
for i, ax in enumerate(axes.flat):
    if i >= len(STATION_NAMES):
        fig.delaxes(ax)
        continue
    t_obs, v_obs = to_series(OBS_SERIES[i])
    t_mod, v_mod = to_series(MOD_SERIES[i])
    ax.plot(t_obs, v_obs, color="red", linestyle="-.", linewidth=1.5, label="Obs")
    ax.plot(t_mod, v_mod, color="blue", linewidth=0.8, label="RUN100f")
    ax.set_xlim(tick_dates[0], tick_dates[-1])
    ax.set_ylim(*Y_RANGES[i])
    ax.set_xticks(tick_dates)
    ax.set_xticklabels([tick_label(d) for d in tick_dates])
    ax.tick_params(labelsize=8)
    ax.set_title(f"station:{STATION_NAMES[i]} (datum:xGEOID)", fontsize=12)
    if i % 2 == 0:
        ax.set_ylabel("Elevation (m)", fontsize=10)
    if i == 0:
        ax.legend(loc="upper right")

fig.savefig("out.png", dpi=100)
plt.close(fig)
